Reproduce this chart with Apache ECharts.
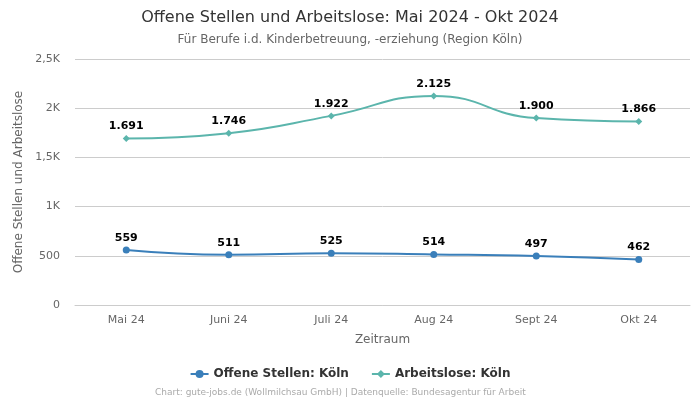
<!DOCTYPE html>
<html><head><meta charset="utf-8">
<script src="https://cdn.jsdelivr.net/npm/echarts@6/dist/echarts.min.js"></script>
<style>html,body{margin:0;padding:0;background:#fff}#c{width:700px;height:400px}</style>
</head><body><div id="c"></div>
<script>
const categories = ["Mai 24","Juni 24","Juli 24","Aug 24","Sept 24","Okt 24"];
const offeneStellen = [559,511,525,514,497,462];
const arbeitslose = [1691,1746,1922,2125,1900,1866];

function fmtNum(v){return String(v).replace(/\B(?=(\d{3})+(?!\d))/g,'.');}
function fmtAxis(v){ if(v>=1000){return String(v/1000).replace('.',',')+'K';} return String(v);}

const chart = echarts.init(document.getElementById('c'));
chart.setOption({
  textStyle:{fontFamily:'DejaVu Sans'},
  title:{text:'Offene Stellen und Arbeitslose: Mai 2024 - Okt 2024',subtext:'Für Berufe i.d. Kinderbetreuung, -erziehung (Region Köln)',left:'center',top:5,
    textStyle:{fontSize:16,fontWeight:'normal',color:'#333',fontFamily:'DejaVu Sans'},
    subtextStyle:{fontSize:12,color:'#666',fontFamily:'DejaVu Sans'},itemGap:8},
  grid:{left:75,right:10,top:59,bottom:95},
  legend:{bottom:15,itemGap:22,itemWidth:18,itemHeight:10,textStyle:{fontSize:12,fontWeight:'bold',color:'#333'},
    data:['Offene Stellen: Köln','Arbeitslose: Köln']},
  graphic:[{type:'text',left:155,bottom:3,style:{text:'Chart: gute-jobs.de (Wollmilchsau GmbH) | Datenquelle: Bundesagentur für Arbeit',fill:'#aaa',fontSize:9,fontFamily:'DejaVu Sans'}}],
  xAxis:{type:'category',data:categories,boundaryGap:true,name:'Zeitraum',nameLocation:'middle',nameGap:29,
    nameTextStyle:{color:'#666',fontSize:12},
    axisLine:{show:true,lineStyle:{color:'#ccc'}},axisTick:{show:false},axisLabel:{color:'#666',fontSize:11,margin:10}},
  yAxis:{type:'value',min:0,max:2500,interval:500,name:'Offene Stellen und Arbeitslose',nameLocation:'middle',nameGap:45,
    nameTextStyle:{color:'#666',fontSize:12},
    axisLabel:{formatter:fmtAxis,color:'#666',fontSize:11,margin:15},splitLine:{lineStyle:{color:'#ccc'}}},
  series:[
    {name:'Offene Stellen: Köln',type:'line',data:offeneStellen,smooth:true,symbol:'circle',symbolSize:7,
      itemStyle:{color:'#3a7fba'},lineStyle:{width:2,color:'#3a7fba'},
      label:{show:true,position:'top',formatter:p=>fmtNum(p.value),fontWeight:'bold',fontSize:11,color:'#000',distance:3}},
    {name:'Arbeitslose: Köln',type:'line',data:arbeitslose,smooth:true,symbol:'diamond',symbolSize:7,
      itemStyle:{color:'#5bb5ac'},lineStyle:{width:2,color:'#5bb5ac'},
      label:{show:true,position:'top',formatter:p=>fmtNum(p.value),fontWeight:'bold',fontSize:11,color:'#000',distance:3}}
  ]
});
</script></body></html>
